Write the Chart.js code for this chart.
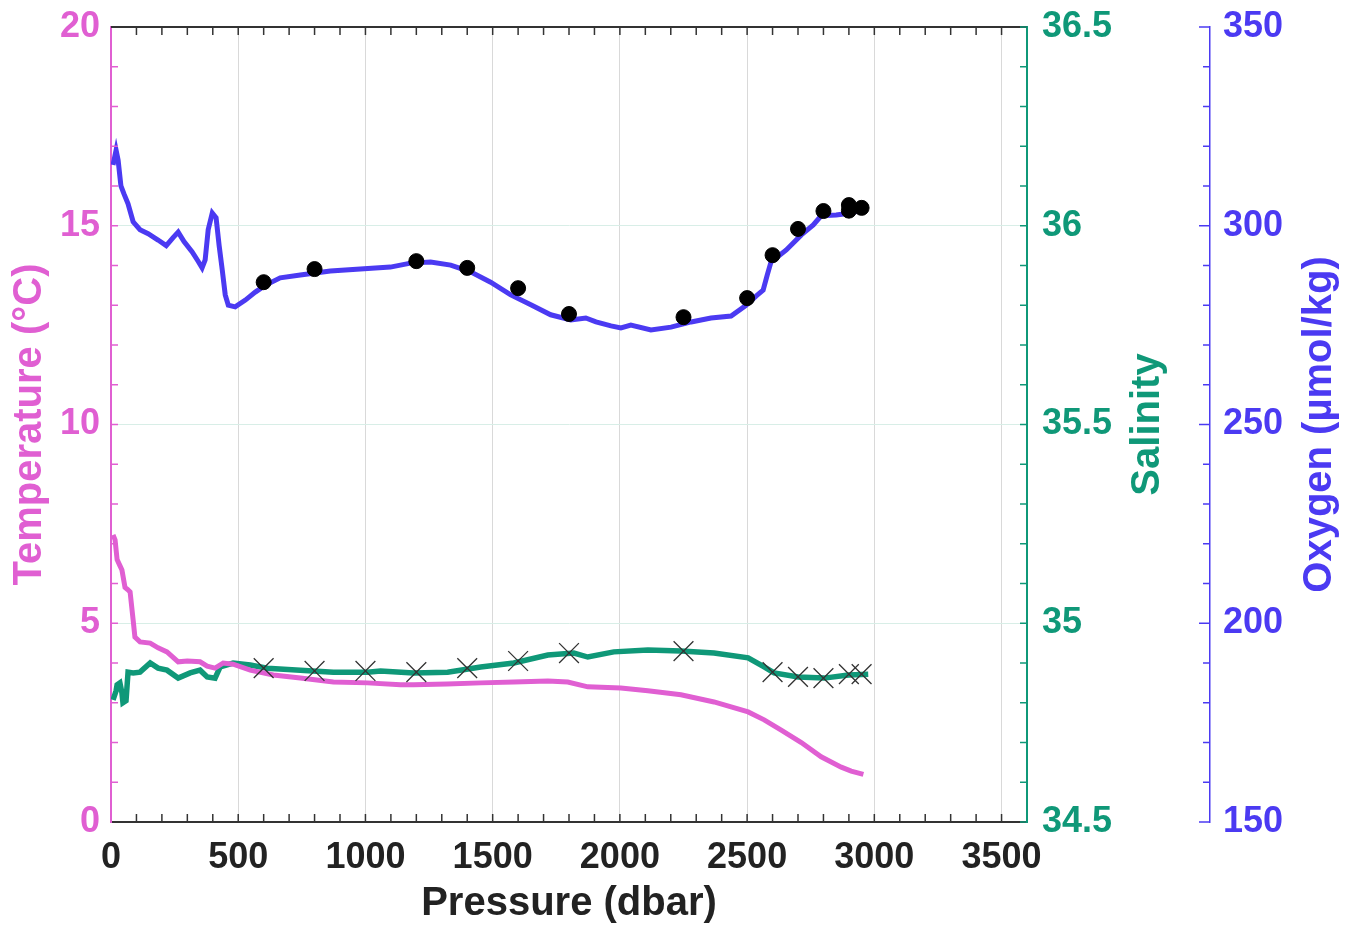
<!DOCTYPE html>
<html>
<head>
<meta charset="utf-8">
<script src="https://cdn.jsdelivr.net/npm/chart.js@4.4.1/dist/chart.umd.min.js"></script>
<style>
  body { margin: 0; background: #fff; }
  .wrap { width: 1358px; height: 928px; }
</style>
</head>
<body>
<div class="wrap"><canvas id="myChart"></canvas></div>
<script>
// CTD profile (continuous)
const tempPressure = [8,16,24,35,43,55,65,75,87,94,114,154,185,220,264,300,350,378,409,441,480,547,638,744,874,1008,1138,1189,1320,1453,1583,1717,1795,1874,2004,2110,2240,2370,2504,2567,2634,2713,2791,2870,2909,2957];
const temperature = [7.22,7.1,6.6,6.45,6.34,5.9,5.85,5.79,5.08,4.65,4.53,4.5,4.38,4.28,4.03,4.05,4.03,3.92,3.87,4.0,3.97,3.82,3.7,3.62,3.52,3.5,3.45,3.45,3.47,3.5,3.52,3.55,3.52,3.4,3.37,3.3,3.2,3.02,2.77,2.57,2.31,2.0,1.64,1.38,1.28,1.2];

const salPressure = [8,20,24,35,43,47,59,67,87,114,154,185,220,264,311,350,378,409,429,480,547,614,744,874,1008,1059,1189,1323,1453,1583,1717,1819,1874,1976,2110,2240,2370,2504,2567,2606,2701,2803,2898,2976];
const salinity = [34.807,34.83,34.845,34.85,34.825,34.8,34.805,34.877,34.875,34.877,34.9,34.887,34.882,34.862,34.875,34.882,34.865,34.862,34.89,34.9,34.895,34.887,34.882,34.877,34.877,34.88,34.875,34.877,34.89,34.9,34.92,34.925,34.915,34.928,34.933,34.93,34.925,34.913,34.89,34.875,34.865,34.862,34.87,34.872];

const oxyPressure = [8,20,28,39,51,67,87,114,146,185,217,244,264,287,319,343,358,370,382,398,413,425,437,449,461,488,528,567,606,665,744,862,980,1098,1177,1256,1335,1413,1492,1571,1650,1728,1807,1866,1906,1965,2004,2043,2122,2201,2280,2358,2437,2496,2535,2563,2579,2594,2654,2713,2760,2791,2850,2909,2949];
const oxygen = [315.3,319,316.5,310,308,305.5,301,299,298,296.4,295,297,298.4,296,293.4,291,289.4,291.4,299,303.2,302,295,289,282.6,280,279.6,281.3,283.3,285,286.9,287.6,288.6,289.1,289.6,290.6,290.9,290.1,288.4,285.8,282.6,280.1,277.6,276.3,276.8,275.8,274.8,274.3,275,273.8,274.5,275.8,276.8,277.3,280,282.3,283.8,287.6,290.9,293.9,297.7,300.2,302.5,302.7,303.2,304];

// bottle samples
const bottleSalPressure = [600,800,1000,1200,1400,1600,1800,2250,2600,2700,2800,2900,2950];
const bottleSalinity = [34.887,34.88,34.88,34.877,34.887,34.905,34.925,34.93,34.877,34.865,34.862,34.872,34.872];
const bottleOxyPressure = [600,800,1200,1400,1600,1800,2250,2500,2600,2700,2800,2900,2900,2950];
const bottleOxygen = [285.8,289.1,291.1,289.4,284.3,277.8,277,281.8,292.6,299.2,303.7,305.2,303.8,304.5];

const pink = '#e05fd2';
const teal = '#0f9878';
const blue = '#4b3af2';
const FONT = '"Liberation Sans", Arial, sans-serif';

const pts = (xs, ys) => xs.map((x, i) => ({ x: x, y: ys[i] }));

// inner minor ticks, top frame and the two right axis titles
const axisExtras = {
  id: 'axisExtras',
  afterDraw(chart) {
    const c = chart.ctx;
    const a = chart.chartArea;
    const sx = chart.scales.x, sy = chart.scales.y, s1 = chart.scales.y1, s2 = chart.scales.y2;
    const line = (x1, y1, x2, y2) => { c.beginPath(); c.moveTo(x1, y1); c.lineTo(x2, y2); c.stroke(); };
    c.save();
    c.strokeStyle = '#333';
    c.lineWidth = 2;
    line(a.left, a.top, a.right, a.top);
    c.lineWidth = 1.5;
    for (let p = 100; p < 3600; p += 100) {
      const px = sx.getPixelForValue(p);
      line(px, a.bottom, px, a.bottom - 8);
      line(px, a.top, px, a.top + 8);
    }
    c.strokeStyle = pink;
    for (let t = 1; t < 20; t++) {
      const py = sy.getPixelForValue(t);
      line(a.left, py, a.left + 7, py);
    }
    c.strokeStyle = teal;
    for (let i = 0; i <= 20; i++) {
      const py = s1.getPixelForValue(34.5 + i * 0.1);
      line(a.right, py, a.right - 7, py);
    }
    c.strokeStyle = blue;
    for (let o = 150; o <= 350; o += 10) {
      const py = s2.getPixelForValue(o);
      line(s2.left, py, s2.left - (o % 50 === 0 ? 11 : 7), py);
    }
    c.font = 'bold 40px ' + FONT;
    c.textAlign = 'center';
    c.textBaseline = 'middle';
    const mid = (a.top + a.bottom) / 2;
    c.fillStyle = teal;
    c.translate(1148, mid);
    c.rotate(-Math.PI / 2);
    c.fillText('Salinity', 0, 0);
    c.setTransform(1, 0, 0, 1, 0, 0);
    c.fillStyle = blue;
    c.translate(1320, mid);
    c.rotate(-Math.PI / 2);
    c.fillText('Oxygen (µmol/kg)', 0, 0);
    c.restore();
  }
};

const fixWidth = w => s => { s.width = w; s.paddingTop = 0; s.paddingBottom = 0; };

const ctx = document.getElementById('myChart');

new Chart(ctx, {
  type: 'scatter',
  data: {
    datasets: [
      { label: 'Oxygen bottles', data: pts(bottleOxyPressure, bottleOxygen), yAxisID: 'y2',
        pointRadius: 7.5, pointBackgroundColor: '#000', pointBorderColor: '#000', order: 0 },
      { label: 'Salinity bottles', data: pts(bottleSalPressure, bottleSalinity), yAxisID: 'y1',
        pointStyle: 'crossRot', pointRadius: 14, pointBorderWidth: 1.3, pointBorderColor: '#333', order: 0 },
      { label: 'Oxygen', data: pts(oxyPressure, oxygen), yAxisID: 'y2', showLine: true,
        borderColor: blue, borderWidth: 5, pointRadius: 0, order: 1 },
      { label: 'Temperature', data: pts(tempPressure, temperature), yAxisID: 'y', showLine: true,
        borderColor: pink, borderWidth: 5, pointRadius: 0, order: 2 },
      { label: 'Salinity', data: pts(salPressure, salinity), yAxisID: 'y1', showLine: true,
        borderColor: teal, borderWidth: 5.5, pointRadius: 0, order: 3 }
    ]
  },
  options: {
    responsive: true,
    maintainAspectRatio: false,
    animation: false,
    layout: { padding: { top: 27, left: 0, right: 0, bottom: 0 } },
    plugins: { legend: { display: false }, tooltip: { enabled: false } },
    scales: {
      x: {
        type: 'linear', position: 'bottom', min: 0, max: 3600,
        afterFit: s => { s.height = 106; },
        ticks: { stepSize: 100, autoSkip: false, maxRotation: 0, minRotation: 0, padding: 14, color: '#222',
          callback: v => (v % 500 === 0 ? String(v) : null),
          font: { family: FONT, size: 36, weight: 'bold' } },
        grid: { color: c => (c.tick && c.tick.value % 500 === 0 ? '#d9d9d9' : 'rgba(0,0,0,0)'),
          lineWidth: 1, drawTicks: false },
        border: { color: '#333', width: 2 },
        title: { display: true, text: 'Pressure (dbar)', color: '#222', padding: { top: 0, bottom: 0 },
          font: { family: FONT, size: 40, weight: 'bold' } }
      },
      y: {
        type: 'linear', position: 'left', min: 0, max: 20,
        afterFit: fixWidth(111),
        ticks: { stepSize: 5, padding: 11, color: pink,
          font: { family: FONT, size: 36, weight: 'bold' } },
        grid: { color: '#d8eee7', lineWidth: 1, drawTicks: false },
        border: { color: pink, width: 2 },
        title: { display: true, text: 'Temperature (°C)', color: pink, padding: { top: 6, bottom: 0 },
          font: { family: FONT, size: 40, weight: 'bold' } }
      },
      y1: {
        type: 'linear', position: 'right', min: 34.5, max: 36.5,
        afterFit: fixWidth(183),
        ticks: { stepSize: 0.5, padding: 15, color: teal,
          callback: v => Number(v.toFixed(1)).toString(),
          font: { family: FONT, size: 36, weight: 'bold' } },
        grid: { display: false, drawTicks: false },
        border: { color: teal, width: 2 }
      },
      y2: {
        type: 'linear', position: 'right', min: 150, max: 350,
        afterFit: fixWidth(148),
        ticks: { stepSize: 50, padding: 13, color: blue,
          font: { family: FONT, size: 36, weight: 'bold' } },
        grid: { display: false, drawTicks: false },
        border: { color: blue, width: 1.5 }
      }
    }
  },
  plugins: [axisExtras]
});
</script>
</body>
</html>
